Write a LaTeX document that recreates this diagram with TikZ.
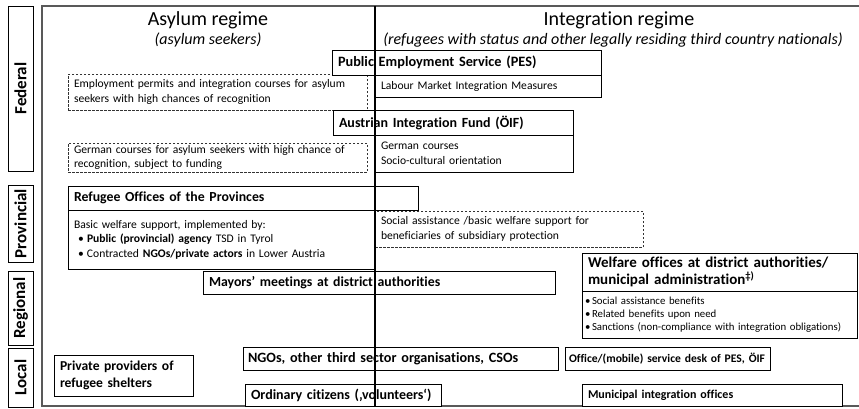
\documentclass[tikz,border=0pt]{standalone}
\usepackage{fontspec}
\setmainfont{Carlito}[Ligatures=NoCommon]
\begin{document}
\begin{tikzpicture}[x=1pt,y=-1pt,
  box/.style={draw=black, line width=0.9pt, fill=white, anchor=north west,
    inner xsep=6pt, inner ysep=0pt, outer sep=0pt, align=left},
  dbox/.style={box, dashed, dash pattern=on 2.5pt off 1.5pt, draw=black!80},
  hd/.style={font=\fontsize{#1}{17}\selectfont\bfseries},
  bd/.style={font=\fontsize{11.6}{14.5}\selectfont},
  sm/.style={font=\fontsize{10.8}{13}\selectfont},
  lvl/.style={draw=black, line width=0.9pt, rotate=90, inner sep=0pt,
    font=\fontsize{17}{19}\selectfont\bfseries},
  title/.style={font=\fontsize{20}{22}\selectfont},
  subtitle/.style={font=\fontsize{16}{18}\selectfont\itshape},
  frame/.style={draw=black!65, line width=1.4pt},
  divider/.style={draw=black, line width=1.4pt}]
\useasboundingbox (0,0) rectangle (859,408);

% outer frame (open on the right)
\coordinate (ftr) at (859,6);
\coordinate (ftl) at (42,6);
\coordinate (fbl) at (42,406);
\coordinate (fbr) at (859,406);
\draw[frame] (ftr) -- (ftl) -- (fbl) -- (fbr);

% level labels
\node[lvl, minimum width=165pt, minimum height=25pt] (federal) at (20.5,88.5) {Federal};
\node[lvl, minimum width=77pt, minimum height=25pt] (provincial) at (20.5,223.5) {Provincial};
\node[lvl, minimum width=74pt, minimum height=25pt] (regional) at (20.5,308) {Regional};
\node[lvl, minimum width=59pt, minimum height=25pt] (local) at (20.5,377.5) {Local};

% column titles
\node[title] (asylum) at (208,20) {Asylum regime};
\node[subtitle] (asylumsub) at (208,40) {(asylum seekers)};
\node[title] (integ) at (619,20) {Integration regime};
\node[subtitle] (integsub) at (613,40) {(refugees with status and other legally residing third country nationals)};

% federal level
\node[dbox, bd, text width=287pt, minimum height=36pt] (empl) at (68,74)
  {Employment permits and integration courses for asylum\\seekers with high chances of recognition};
\node[box, hd=14.3, text width=257pt, minimum height=25pt] (pes) at (332,50) {Public Employment Service (PES)};
\node[box, bd, text width=214pt, minimum height=22pt] (pesb) at (375,75) {Labour Market Integration Measures};

\node[dbox, bd, text width=287pt, minimum height=29pt] (germ) at (68,143)
  {German courses for asylum seekers with high chance of\\recognition, subject to funding};
\node[box, hd=14, text width=228pt, minimum height=25pt] (oif) at (333,110) {Austrian Integration Fund (ÖIF)};
\node[box, bd, text width=186pt, minimum height=37pt] (oifb) at (375,135)
  {German courses\\Socio-cultural orientation};

% provincial level
\node[box, hd=13.8, text width=338pt, minimum height=24pt] (ref) at (68,186) {Refugee Offices of the Provinces};
\node[box, bd, text width=295pt, minimum height=59pt] (refb) at (68,210)
  {Basic welfare support, implemented by:\\
   \hspace*{4pt}\makebox[9pt][l]{•}\textbf{Public (provincial) agency} TSD in Tyrol\\
   \hspace*{4pt}\makebox[9pt][l]{•}Contracted \textbf{NGOs/private actors} in Lower Austria};
\node[dbox, bd, text width=256pt, minimum height=36pt] (subs) at (375,211)
  {Social assistance /basic welfare support for\\beneficiaries of subsidiary protection};

% regional level
\node[box, hd=13.8, text width=340pt, minimum height=23pt] (mayor) at (203,271) {Mayors’ meetings at district authorities};
\node[box, hd=15, text width=263pt, minimum height=38pt] (welf) at (582,253)
  {Welfare offices at district authorities/\\municipal administration\textsuperscript{‡)}};
\node[box, sm, inner xsep=3pt, text width=269pt, minimum height=47pt] (welfb) at (582,291)
  {\makebox[7pt][l]{•}Social assistance benefits\\
   \makebox[7pt][l]{•}Related benefits upon need\\
   \makebox[7pt][l]{•}Sanctions (non-compliance with integration obligations)};

% local level
\node[box, hd=13.6, text width=127pt, minimum height=41pt] (priv) at (54,355) {Private providers of\\refugee shelters};
\node[box, hd=14.2, inner xsep=5pt, text width=305pt, minimum height=23pt] (ngo) at (243,347) {NGOs, other third sector organisations, CSOs};
\node[box, hd=11.6, inner xsep=4pt, text width=197pt, minimum height=23pt] (desk) at (565,347) {Office/(mobile) service desk of PES, ÖIF};
\node[box, hd=14, text width=184pt, minimum height=22pt] (citz) at (245,384) {Ordinary citizens (‚volunteers‘)};
\node[box, hd=12, text width=248pt, minimum height=22pt] (muni) at (582,384) {Municipal integration offices};

% regime divider on top
\coordinate (dtop) at (375,6);
\coordinate (dbot) at (375,406);
\draw[divider] (dtop) -- (dbot);
\end{tikzpicture}
\end{document}
